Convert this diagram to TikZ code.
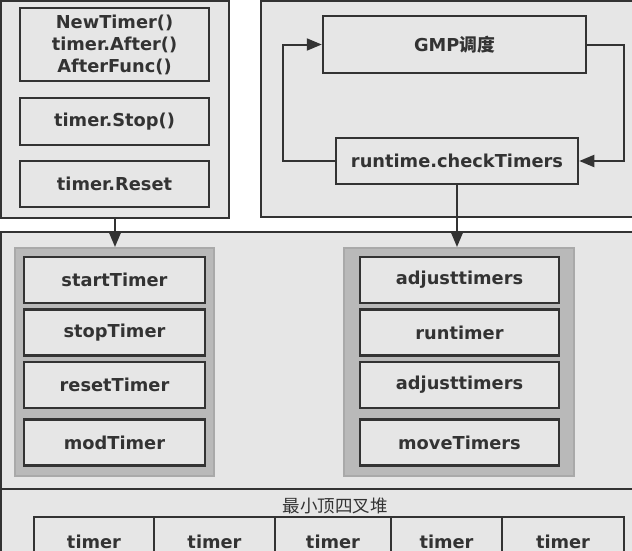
\documentclass[tikz,border=0pt]{standalone}
\usepackage{fontspec}
\setmainfont{DejaVu Sans}
\newfontfamily\cjk{Noto Sans CJK SC}
\usetikzlibrary{arrows.meta}
\definecolor{panelgray}{HTML}{E6E6E6}
\definecolor{groupgray}{HTML}{B9B9B9}
\definecolor{groupline}{HTML}{A9A9A9}
\definecolor{ink}{HTML}{333333}
\tikzset{
  panel/.style={draw=ink, fill=panelgray, line width=2pt, inner sep=0pt},
  group/.style={draw=groupline, fill=groupgray, line width=2pt, inner sep=0pt},
  fbox/.style={draw=ink, fill=panelgray, line width=2.5pt, text=ink,
    font=\bfseries\fontsize{17.8}{22}\selectfont, align=center, inner sep=0pt},
  arr/.style={draw=ink, line width=2pt, -{Triangle[length=15pt,width=12pt]}}
}
\begin{document}
\begin{tikzpicture}[x=1pt, y=-1pt]
    \useasboundingbox (0,0) rectangle (632,550);

    % top panels
    \node[panel, minimum width=228pt, minimum height=217pt] (lpanel) at (115,109.5) {};
    \node[panel, minimum width=380pt, minimum height=216pt] (rpanel) at (451,109) {};

    \node[fbox, minimum width=189pt, minimum height=73pt] (newtimer) at (114.5,44.5)
      {NewTimer()\\timer.After()\\AfterFunc()};
    \node[fbox, minimum width=189pt, minimum height=47pt] (tstop) at (114.5,121.5) {timer.Stop()};
    \node[fbox, minimum width=189pt, minimum height=46pt] (treset) at (114.5,184) {timer.Reset};

    \node[fbox, minimum width=263pt, minimum height=57pt] (gmp) at (454.5,44.5) {GMP{\cjk 调度}};
    \node[fbox, minimum width=242pt, minimum height=46pt] (check) at (457,161) {runtime.checkTimers};

    % middle panel
    \node[panel, minimum width=640pt, minimum height=257pt] (mid) at (321,360.5) {};
    \node[group, minimum width=199pt, minimum height=228pt] (lgroup) at (114.5,362) {};
    \node[group, minimum width=230pt, minimum height=228pt] (rgroup) at (459,362) {};

    \foreach \n/\y/\t in {start/280/startTimer, stopt/332.5/stopTimer,
                          resett/385/resetTimer, mod/442.5/modTimer}
      {
        \node[fbox, minimum width=181pt, minimum height=46pt] (\n) at (114.5,\y) {\t};
      }

    \foreach \n/\y/\t in {adja/280/adjusttimers, run/332.5/runtimer,
                          adjb/385/adjusttimers, move/442.5/moveTimers}
      {
        \node[fbox, minimum width=199pt, minimum height=46pt] (\n) at (459.5,\y) {\t};
      }

    % bottom panel
    \node[panel, minimum width=640pt, minimum height=71pt] (heap) at (321,524.5) {};
    \node[text=ink, font=\cjk\fontsize{17.5}{20}\selectfont] (heaptitle) at (335,506) {最小顶四叉堆};

    \foreach \a/\b [count=\i] in {34/154, 154/275, 275/391, 391/502, 502/624}
      {
        \node[fbox, minimum width=\b pt-\a pt, minimum height=50pt] (t\i) at ({(\a+\b)/2},542) {timer};
      }

    % arrows
    \draw[arr] (lpanel.south) -- (lpanel.south |- lgroup.north);
    \draw[arr] (check.south) -- (check.south |- rgroup.north);
    \draw[arr] (check.west) -- ++(-52,0) |- (gmp.west);
    \draw[arr] (gmp.east) -- ++(37,0) |- (check.east);
\end{tikzpicture}
\end{document}
